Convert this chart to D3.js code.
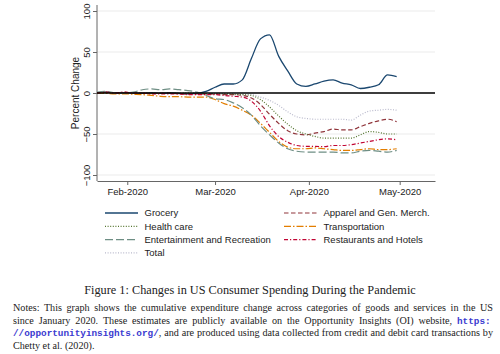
<!DOCTYPE html>
<html>
<head>
<meta charset="utf-8">
<script src="https://cdn.jsdelivr.net/npm/d3@7"></script>
<style>
body { margin: 0; background: #fff; }
svg { display: block; }
</style>
</head>
<body>
<div id="chart"></div>
<script>
var width = 500, height = 354;

var dates = ["2020-01-22","2020-01-25","2020-01-28","2020-01-31","2020-02-03","2020-02-06",
    "2020-02-09","2020-02-12","2020-02-15","2020-02-18","2020-02-21","2020-02-24","2020-02-27",
    "2020-03-01","2020-03-04","2020-03-07","2020-03-10","2020-03-13","2020-03-16","2020-03-19",
    "2020-03-22","2020-03-25","2020-03-28","2020-03-31","2020-04-03","2020-04-06","2020-04-09",
    "2020-04-12","2020-04-15","2020-04-18","2020-04-21","2020-04-24","2020-04-27","2020-04-30"];

var grocery = [0,1,0,0.5,0,-0.5,0,-0.5,0,-0.5,-1,-0.5,2,
    7,11,11,16,42,66,71,45,27,11,8,
    11,14.5,16,12,10,5.5,7,10,22,20];
var apparel = [0,1,0,1,0,0,-1,0,0,-1,-1,-1,-1,
    -1,-2,-2,-3,-6,-14,-26,-37,-46,-50,-51,
    -49,-47,-44,-45,-45,-41,-37,-34,-32,-35];
var health = [0,0.5,0,-0.5,0,0,-0.5,-0.5,0,-0.5,0,0,-1,
    -1,-1,-1.5,-2,-3,-8,-17,-28,-38,-46,-50,
    -53,-55,-55,-55,-55,-51,-47,-48,-50,-50];
var transport = [0,-0.5,-1,-1,-1.5,-2,-3,-4,-4.5,-4.5,-5,-5,-5,
    -8,-13,-16,-21,-27,-37,-48,-59,-66,-68,-68,
    -67,-68,-69,-70,-70,-69,-68,-69,-69,-68];
var entertainment = [1,2,0,0,1,4,5,4,5,4,3,1,-3,
    -7,-8,-12,-18,-27,-40,-51,-61,-68,-71,-72,
    -72,-72,-72,-73,-73,-71,-70,-71,-72,-70];
var restaurants = [0,1,0,1,0,0,-1,-1,-1,-1,-2,-2,-2,
    -2,-3,-4,-5,-10,-22,-40,-53,-60,-64,-65,
    -65,-65.5,-64,-64,-63,-61,-59,-57,-56,-57];
var total = [0,0.5,0,0,0,-0.5,0,-0.5,-0.5,-1,-1,-1,-1.5,
    -1.5,-1.5,-2,-2,-2,-5,-9,-15,-23,-29,-31,
    -32,-32,-32,-32,-33,-27,-22,-21,-20,-21];

var categories = ["Grocery","Apparel and Gen. Merch.","Health care","Transportation",
    "Entertainment and Recreation","Restaurants and Hotels","Total"];
var seriesValues = [grocery, apparel, health, transport, entertainment, restaurants, total];

var yTicks = [-100, -50, 0, 50, 100];
var xTicks = ["2020-02-01","2020-03-01","2020-04-01","2020-05-01"];

var caption = "Figure 1: Changes in US Consumer Spending During the Pandemic";
var notes = [
    [["Notes: This graph shows the cumulative expenditure change across categories of goods and services in the US", false]],
    [["since January 2020.  These estimates are publicly available on the Opportunity Insights (OI) website, ", false], ["https:", true]],
    [["//opportunityinsights.org/", true], [", and are produced using data collected from credit and debit card transactions by", false]],
    [["Chetty et al. (2020).", false]]
];

// line styles, same order as categories
var styles = [
    {color: "#1a476f", dash: null, w: 1.3},
    {color: "#90353b", dash: "4.5,2.5", w: 1.2},
    {color: "#55752f", dash: "1,1.6", w: 1.2},
    {color: "#e37e00", dash: "7,2,1.5,2", w: 1.2},
    {color: "#6e8e84", dash: "8,3", w: 1.2},
    {color: "#c10534", dash: "4,2,1.2,2", w: 1.2},
    {color: "#b9b9cc", dash: "1,1.6", w: 1.2}
];

var parse = d3.timeParse("%Y-%m-%d");
var sans = "'Liberation Sans', Arial, sans-serif";
var serif = "'Liberation Serif', 'Times New Roman', serif";
var mono = "'Liberation Mono', 'DejaVu Sans Mono', monospace";

var svg = d3.select("#chart").append("svg")
    .attr("width", width)
    .attr("height", height);

var x = d3.scaleTime()
    .domain([parse("2020-01-22"), new Date(2020, 4, 12, 16)])
    .range([97, 435]);

var y = d3.scaleLinear()
    .domain([-100, 100])
    .range([175, 11]);

// grid
svg.selectAll(".grid")
    .data(yTicks)
    .enter().append("line")
    .attr("x1", 97).attr("x2", 435)
    .attr("y1", d => y(d)).attr("y2", d => y(d))
    .attr("stroke", "#ebebeb")
    .attr("stroke-width", 1);

// x axis
var xAxis = svg.append("g")
    .attr("transform", "translate(0,181)")
    .call(d3.axisBottom(x)
        .tickValues(xTicks.map(parse))
        .tickFormat(d3.timeFormat("%b-%Y"))
        .tickSize(4)
        .tickSizeOuter(0));
xAxis.select(".domain").attr("stroke", "#666");
xAxis.selectAll(".tick line").attr("stroke", "#666");
xAxis.selectAll(".tick text")
    .attr("y", 7)
    .attr("font-family", sans)
    .attr("font-size", 9.5)
    .attr("fill", "#222");

// y axis
svg.append("line")
    .attr("x1", 97).attr("x2", 97)
    .attr("y1", 5).attr("y2", 181)
    .attr("stroke", "#666");

var yAxis = svg.append("g")
    .attr("transform", "translate(97,0)")
    .call(d3.axisLeft(y).tickValues(yTicks).tickSize(4));
yAxis.select(".domain").remove();
yAxis.selectAll(".tick line").attr("stroke", "#666");
yAxis.selectAll(".tick text")
    .attr("x", null).attr("dy", null)
    .attr("text-anchor", "middle")
    .attr("transform", "translate(-7,0) rotate(-90)")
    .attr("font-family", sans)
    .attr("font-size", 9.5)
    .attr("fill", "#222");

svg.append("text")
    .attr("transform", "translate(78.5," + y(0) + ") rotate(-90)")
    .attr("text-anchor", "middle")
    .attr("font-family", sans)
    .attr("font-size", 10)
    .attr("fill", "#222")
    .text("Percent Change");

// lines
var line = d3.line()
    .x(d => x(d.date))
    .y(d => y(d.value))
    .curve(d3.curveMonotoneX);

var series = categories.map(function(name, i) {
    return {
        name: name,
        style: styles[i],
        values: seriesValues[i].map((v, j) => ({date: parse(dates[j]), value: v}))
    };
});

// draw the total first so it sits under the others
var drawOrder = [6, 0, 1, 2, 3, 4, 5];
svg.selectAll(".series")
    .data(drawOrder.map(i => series[i]))
    .enter().append("path")
    .attr("class", "series")
    .attr("fill", "none")
    .attr("stroke", d => d.style.color)
    .attr("stroke-width", d => d.style.w)
    .attr("stroke-dasharray", d => d.style.dash)
    .attr("d", d => line(d.values));

// zero line
svg.append("line")
    .attr("x1", 97).attr("x2", 435)
    .attr("y1", y(0)).attr("y2", y(0))
    .attr("stroke", "#000")
    .attr("stroke-width", 1.5);

// legend (two columns, filled row by row)
var legend = svg.selectAll(".legend")
    .data(series)
    .enter().append("g")
    .attr("class", "legend")
    .attr("transform", function(d, i) {
        var col = i % 2, row = Math.floor(i / 2);
        return "translate(" + (col ? 284 : 105) + "," + (213 + row * 13.3) + ")";
    });

legend.append("line")
    .attr("x1", 0).attr("x2", 33)
    .attr("stroke", d => d.style.color)
    .attr("stroke-width", d => d.style.w)
    .attr("stroke-dasharray", d => d.style.dash);

legend.append("text")
    .attr("x", 39.5)
    .attr("y", 3.4)
    .attr("font-family", sans)
    .attr("font-size", 9.5)
    .attr("fill", "#222")
    .text(d => d.name);

// caption
var cap = svg.append("text")
    .attr("x", 250)
    .attr("y", 293.5)
    .attr("text-anchor", "middle")
    .attr("font-family", serif)
    .attr("font-size", 10)
    .attr("fill", "#222")
    .text(caption);
var capW = cap.node().getComputedTextLength();
cap.attr("font-size", 10 * 332 / capW);

// notes, justified between 13 and 493
var noteBase = [311, 323.7, 336.4, 349.1];
var noteTexts = notes.map(function(parts, i) {
    var t = svg.append("text")
        .attr("x", 13)
        .attr("y", noteBase[i])
        .attr("font-family", serif)
        .attr("font-size", 10)
        .attr("fill", "#222");
    parts.forEach(function(p) {
        t.append("tspan")
            .attr("font-family", p[1] ? mono : serif)
            .attr("font-weight", p[1] ? "bold" : null)
            .attr("fill", p[1] ? "#3a3ad0" : null)
            .attr("font-size", p[1] ? 9.2 : null)
            .text(p[0]);
    });
    return t;
});

var scale = d3.min(noteTexts.slice(0, 3), t => 476 / t.node().getComputedTextLength());
noteTexts.forEach(function(t, i) {
    t.attr("font-size", 10 * scale);
    t.selectAll("tspan").filter(function() { return d3.select(this).attr("font-size"); })
        .attr("font-size", 9.2 * scale);
    if (i < 3) {
        var w = t.node().getComputedTextLength();
        var txt = t.text();
        var spaces = (txt.match(/ /g) || []).length;
        t.attr("word-spacing", (480 - w) / spaces);
    }
});
</script>
</body>
</html>
